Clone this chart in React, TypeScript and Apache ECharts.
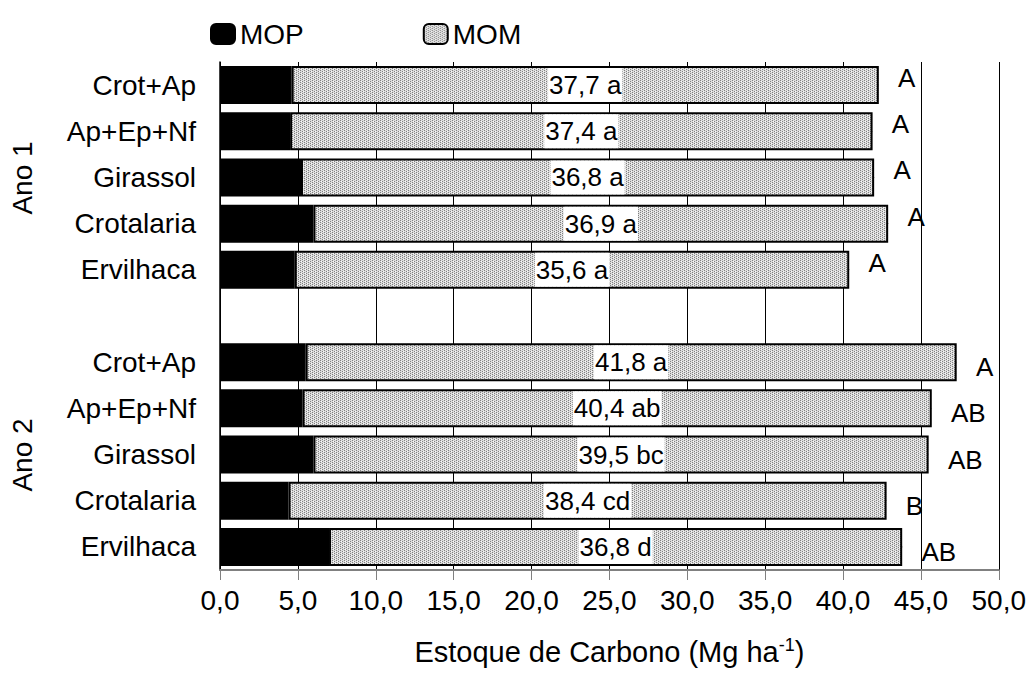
import React, { useEffect, useRef } from "react";
import * as echarts from "echarts";

const groupLabels = ["Ano 1", "Ano 2"];
const treatments = ["Crot+Ap", "Ap+Ep+Nf", "Girassol", "Crotalaria", "Ervilhaca"];
const mopAno1 = [4.6, 4.5, 5.2, 6.0, 4.8];
const momAno1 = [37.7, 37.4, 36.8, 36.9, 35.6];
const mopAno2 = [5.5, 5.3, 6.0, 4.4, 7.0];
const momAno2 = [41.8, 40.4, 39.5, 38.4, 36.8];
const lowerAno1 = ["a", "a", "a", "a", "a"];
const lowerAno2 = ["a", "ab", "bc", "cd", "d"];
const upperAno1 = ["A", "A", "A", "A", "A"];
const upperAno2 = ["A", "AB", "AB", "B", "AB"];
const xMin = 0;
const xMax = 50;
const xInterval = 5;

const FONT = "'Liberation Sans', Arial, sans-serif";

function fmt(v: number) {
  return v.toFixed(1).replace(".", ",");
}

function makePattern() {
  const c = document.createElement("canvas");
  c.width = 4;
  c.height = 4;
  const ctx = c.getContext("2d")!;
  ctx.fillStyle = "#dcdcdc";
  ctx.fillRect(0, 0, 4, 4);
  ctx.fillStyle = "#808080";
  ctx.fillRect(0, 0, 1, 1);
  ctx.fillRect(2, 1, 1, 1);
  ctx.fillRect(0, 2, 1, 1);
  ctx.fillRect(2, 3, 1, 1);
  ctx.fillStyle = "#f8f8f8";
  ctx.fillRect(1, 1, 1, 1);
  ctx.fillRect(3, 3, 1, 1);
  return c;
}

export default function App() {
  const ref = useRef<HTMLDivElement>(null);
  useEffect(() => {
    if (!ref.current) return;
    const chart = echarts.init(ref.current, undefined, { renderer: "svg" });

    const categories = [...treatments, "", ...treatments];
    const mop = [...mopAno1, null, ...mopAno2];
    const mom = [...momAno1, null, ...momAno2];
    const lower = [...lowerAno1, "", ...lowerAno2];
    const upper = [...upperAno1, "", ...upperAno2];

    const letterData: any[] = [];
    categories.forEach((_, i) => {
      if (mop[i] == null || mom[i] == null) return;
      const total = (mop[i] as number) + (mom[i] as number);
      letterData.push({
        value: [total, i],
        label: { offset: [0, i < 5 ? -7 : 5] },
      });
    });

    const pattern = makePattern();

    chart.setOption({
      animation: false,
      backgroundColor: "#ffffff",
      textStyle: { fontFamily: FONT, color: "#000" },
      legend: {
        data: ["MOP", "MOM"],
        left: 210,
        top: 20,
        padding: 0,
        itemGap: 119,
        itemWidth: 24,
        itemHeight: 20,
        textStyle: { fontSize: 28, color: "#000", fontFamily: FONT },
      },
      grid: { left: 220, right: 30, top: 62, bottom: 119, containLabel: false },
      xAxis: {
        type: "value",
        min: xMin,
        max: xMax,
        interval: xInterval,
        name: "Estoque de Carbono (Mg ha{sup|-1})",
        nameLocation: "middle",
        nameGap: 66,
        nameTextStyle: {
          fontSize: 29,
          color: "#000",
          fontFamily: FONT,
          rich: {
            sup: { fontSize: 18, padding: [0, 0, 14, 0], color: "#000", fontFamily: FONT },
          },
        },
        axisLine: { show: true, lineStyle: { color: "#808080", width: 2 } },
        axisTick: { show: true, length: 10, lineStyle: { color: "#808080", width: 1 } },
        axisLabel: {
          fontSize: 28,
          color: "#000",
          margin: 16,
          fontFamily: FONT,
          formatter: (v: number) => fmt(v),
        },
        splitLine: { show: true, lineStyle: { color: "#000", width: 1 } },
      },
      yAxis: {
        type: "category",
        inverse: true,
        data: categories,
        axisLine: { show: true, lineStyle: { color: "#000", width: 1.5 } },
        axisTick: { show: false },
        axisLabel: { fontSize: 28, color: "#000", margin: 24, fontFamily: FONT },
      },
      series: [
        {
          name: "MOP",
          type: "bar",
          stack: "total",
          barWidth: 38,
          data: mop,
          itemStyle: { color: "#000", borderColor: "#000", borderWidth: 1.5 },
        },
        {
          name: "MOM",
          type: "bar",
          stack: "total",
          barWidth: 38,
          data: mom,
          itemStyle: {
            color: { image: pattern, repeat: "repeat" },
            borderColor: "#000",
            borderWidth: 2,
          },
          label: {
            show: true,
            position: "inside",
            fontSize: 26,
            color: "#000",
            fontFamily: FONT,
            backgroundColor: "#fff",
            padding: [5, 1, 3, 1],
            formatter: (p: any) => `${fmt(p.value)} ${lower[p.dataIndex]}`,
          },
        },
        {
          name: "letters",
          type: "scatter",
          symbolSize: 0.5,
          itemStyle: { color: "#000", opacity: 1 },
          data: letterData,
          z: 10,
          silent: true,
          label: {
            show: true,
            position: "right",
            distance: 19,
            fontSize: 26,
            color: "#000",
            opacity: 1,
            textBorderWidth: 0,
            fontFamily: FONT,
            formatter: (p: any) => upper[p.value[1]],
          },
        },
      ],
      graphic: [
        {
          type: "text",
          x: 22,
          y: 178,
          rotation: Math.PI / 2,
          style: {
            text: groupLabels[0],
            fontSize: 28,
            fontFamily: FONT,
            fill: "#000",
            align: "center",
            verticalAlign: "middle",
          },
        },
        {
          type: "text",
          x: 22,
          y: 455,
          rotation: Math.PI / 2,
          style: {
            text: groupLabels[1],
            fontSize: 28,
            fontFamily: FONT,
            fill: "#000",
            align: "center",
            verticalAlign: "middle",
          },
        },
      ],
    });

    return () => chart.dispose();
  }, []);

  return (
    <div
      ref={ref}
      style={{ position: "fixed", left: 0, top: 0, width: 1029, height: 689, background: "#fff" }}
    />
  );
}
